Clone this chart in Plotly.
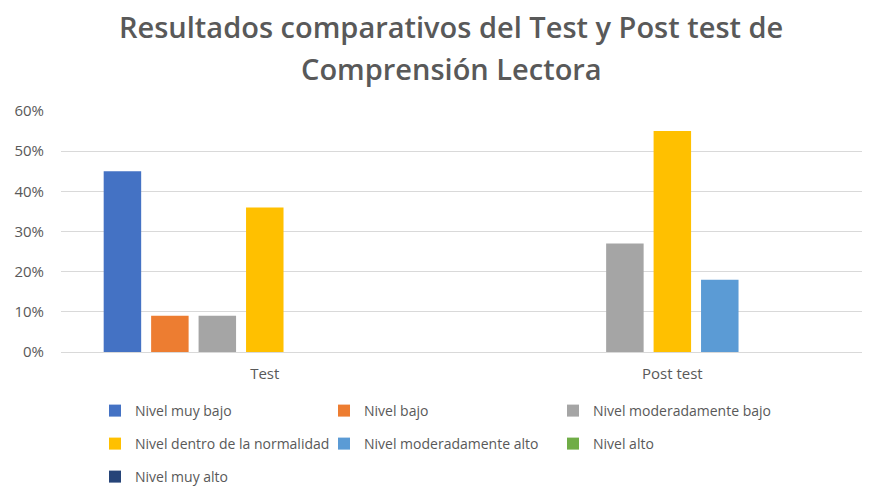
import plotly.graph_objects as go

categories = ["Test", "Post test"]
series_names = [
    "Nivel muy bajo",
    "Nivel bajo",
    "Nivel moderadamente bajo",
    "Nivel dentro de la normalidad",
    "Nivel moderadamente alto",
    "Nivel alto",
    "Nivel muy alto",
]
muy_bajo = [0.45, 0.0]
bajo = [0.09, 0.0]
mod_bajo = [0.09, 0.27]
normalidad = [0.36, 0.55]
mod_alto = [0.0, 0.18]
alto = [0.0, 0.0]
muy_alto = [0.0, 0.0]
values = [muy_bajo, bajo, mod_bajo, normalidad, mod_alto, alto, muy_alto]
colors = ["#4472C4", "#ED7D31", "#A5A5A5", "#FFC000", "#5B9BD5", "#70AD47", "#264478"]
legend_rows = ["legend", "legend", "legend", "legend2", "legend2", "legend2", "legend3"]

# page has an 8px body margin: the figure is drawn 8px right/down
OFF = 8
W, H = 870 - OFF, 497 - 2 * OFF
L, R, T, B = 61 - OFF, 0, 110.7 - OFF, 497 - OFF - 351.7
FONT = "Open Sans"
GREY = "#595959"

fig = go.Figure()
for name, vals, col, lg in zip(series_names, values, colors, legend_rows):
    fig.add_trace(go.Bar(name=name, x=categories, y=vals, marker_color=col,
                         marker_line_width=0, legend=lg))

leg_common = dict(orientation="h", xref="container", yref="container",
                  xanchor="left", yanchor="middle", x=(95 - OFF) / W,
                  font=dict(family=FONT, size=14, color=GREY),
                  entrywidth=184, entrywidthmode="pixels",
                  bgcolor="rgba(0,0,0,0)", traceorder="normal")

fig.update_layout(
    width=W, height=H,
    margin=dict(l=L, r=R, t=T, b=B, autoexpand=False),
    paper_bgcolor="white", plot_bgcolor="white",
    barmode="group", bargap=0.185, bargroupgap=0.21,
    showlegend=True,
    legend=dict(**leg_common, y=1 - (411 - OFF) / H),
    legend2=dict(**leg_common, y=1 - (444 - OFF) / H),
    legend3=dict(**leg_common, y=1 - (477 - OFF) / H),
    xaxis=dict(range=[-0.5, 1.485], showgrid=False, showline=True,
               linecolor="#D9D9D9", linewidth=1, ticks="", ticklabelstandoff=8,
               tickfont=dict(family=FONT, size=15, color=GREY)),
    yaxis=dict(range=[0, 0.6], dtick=0.1, tickformat=".0%",
               showgrid=True, gridcolor="#D9D9D9", gridwidth=1,
               zeroline=False, showline=False, ticks="", ticklabelstandoff=16,
               tickfont=dict(family=FONT, size=15, color=GREY)),
)

paper_x = (451 - 61) / (870 - 61)
ph = H - T - B
fig.add_annotation(text="Resultados comparativos del Test y Post test de",
                   xref="paper", yref="paper", x=paper_x, y=1 + (110.7 - 26) / ph,
                   xanchor="center", yanchor="middle", showarrow=False,
                   font=dict(family=FONT, size=29, color=GREY, weight=600))
fig.add_annotation(text="Comprensión Lectora",
                   xref="paper", yref="paper", x=paper_x, y=1 + (110.7 - 68) / ph,
                   xanchor="center", yanchor="middle", showarrow=False,
                   font=dict(family=FONT, size=29, color=GREY, weight=600))

fig.write_html("out.html")
